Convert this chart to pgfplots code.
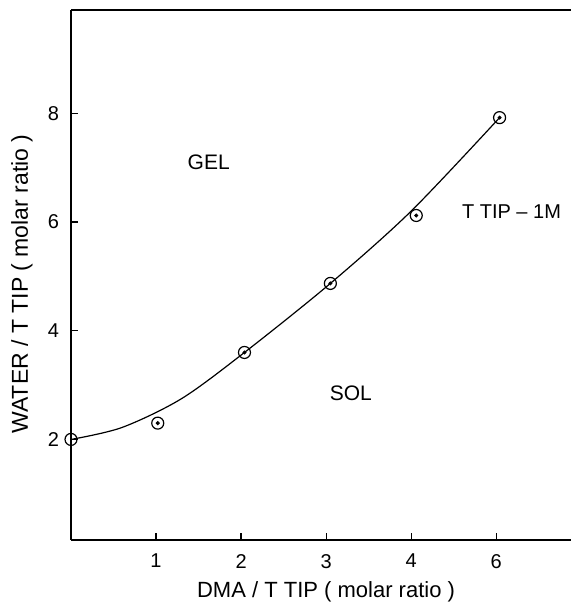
\documentclass[border=0pt]{standalone}
\usepackage{fontspec}
\setmainfont{Liberation Sans}
\usepackage{pgfplots}
\pgfplotsset{compat=1.18}

\begin{document}
\begin{tikzpicture}
\path[use as bounding box] (-35.5pt,-31.5pt) rectangle (250pt,270pt);
\begin{axis}[
  width=250pt, height=265pt, scale only axis,
  xmin=0, xmax=5.88, ymin=0.15, ymax=9.9,
  axis x line*=box, axis y line*=left,
  xtick={1,2,3,4,5}, xticklabels={1,2,3,4,6},
  ytick={2,4,6,8},
  xtick pos=left, ytick pos=left,
  tick align=inside, major tick length=3.5pt,
  tick style={line width=0.6pt, black},
  axis line style={line width=0.8pt},
  /pgf/number format/assume math mode=true,
  tick label style={font=\fontsize{10}{11}\selectfont},
  yticklabel style={xshift=-2.5pt},
  xticklabel style={yshift=-3.5pt},
  xlabel={DMA / T TIP ( molar ratio )},
  ylabel={WATER / T TIP ( molar ratio )},
  xlabel style={font=\fontsize{11}{12}\selectfont,
    at={(axis description cs:0.51,-0.098)}, anchor=center},
  ylabel style={font=\fontsize{11.5}{12}\selectfont,
    at={(axis description cs:-0.098,0.483)}, anchor=center},
  clip=false,
]
% boundary curve between gel and sol
\addplot[smooth, line width=0.6pt] coordinates {
  (0,2.0) (0.6,2.22) (1.3,2.75) (2.04,3.6) (3.05,4.87) (4.0,6.2) (5.04,7.92)
};
% measured points
\addplot[only marks, mark=o, mark size=3pt, mark options={line width=0.6pt}] coordinates {
  (0,2.0) (1.02,2.3) (2.04,3.6) (3.05,4.87) (4.06,6.12) (5.04,7.92)
};
\addplot[only marks, mark=*, mark size=0.8pt] coordinates {
  (1.02,2.3) (2.04,3.6) (3.05,4.87) (4.06,6.12) (5.04,7.92)
};
\node[font=\fontsize{10.5}{12}\selectfont] at (axis cs:1.62,7.1) {GEL};
\node[font=\fontsize{10.5}{12}\selectfont] at (axis cs:3.29,2.85) {SOL};
\node[font=\fontsize{10}{12}\selectfont] at (axis cs:5.18,6.2) {T TIP -- 1M};
\end{axis}
\end{tikzpicture}
\end{document}
